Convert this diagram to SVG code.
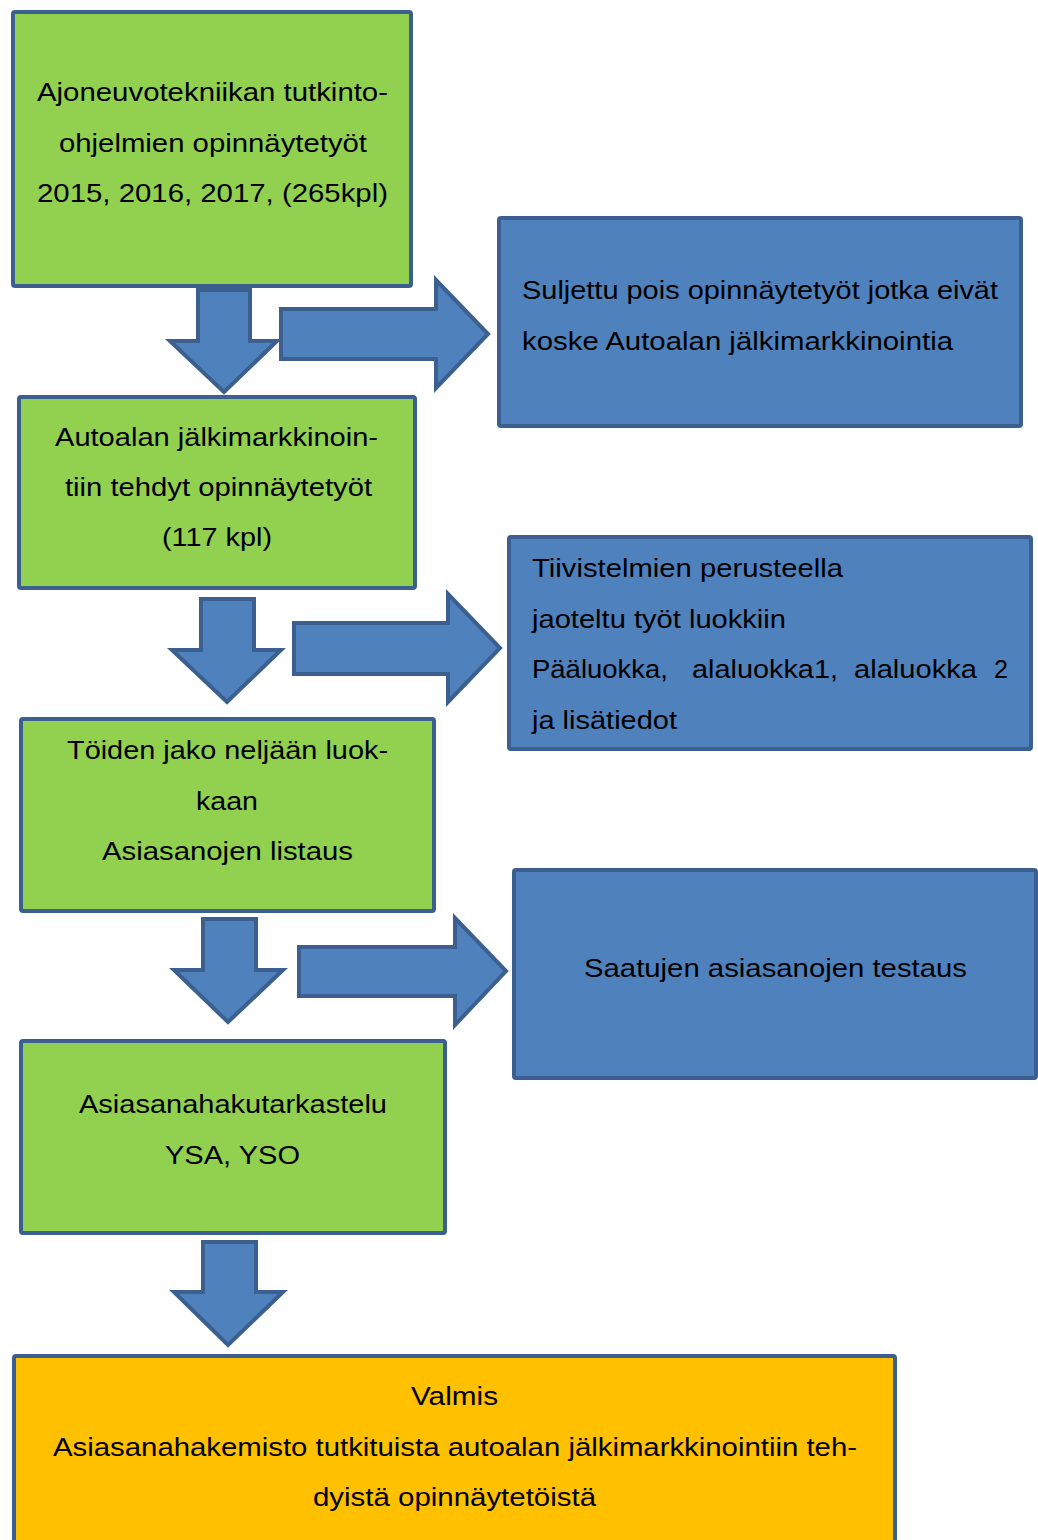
<svg xmlns="http://www.w3.org/2000/svg" width="1038" height="1540" viewBox="0 0 1038 1540">
<style>
.g{fill:#92D050;stroke:#3B5F8E;stroke-width:4}
.b{fill:#4F81BD;stroke:#3B5F8E;stroke-width:4}
.o{fill:#FFC000;stroke:#3B5F8E;stroke-width:4}
.a{fill:#4F81BD;stroke:#3B5F8E;stroke-width:4;stroke-linejoin:miter}
text{font-family:"Liberation Sans",Arial,sans-serif;font-size:26.5px;fill:#000}
</style>
<rect width="1038" height="1540" fill="#fff"/>
<g id="connectors">
<polygon class="a" points="198,290 250,290 250,341 277,341 224,392 170,341 198,341"/>
<polygon class="a" points="281,309 436,309 436,280 488,334 436,388 436,359 281,359"/>
<polygon class="a" points="201,599 254,599 254,650 281,650 227,702 172,650 201,650"/>
<polygon class="a" points="294,623 448,623 448,594 500,648 448,702 448,674 294,674"/>
<polygon class="a" points="203,919 256,919 256,970 283,970 228,1022 174,970 203,970"/>
<polygon class="a" points="299,947 455,947 455,918 506,971 455,1025 455,996 299,996"/>
<polygon class="a" points="203,1242 256,1242 256,1292 283,1292 228,1345 174,1292 203,1292"/>
</g>
<g id="n1">
<rect class="g" x="13" y="12" width="398" height="274" rx="2"/>
<text x="37" y="101" textLength="351" lengthAdjust="spacingAndGlyphs">Ajoneuvotekniikan tutkinto-</text>
<text x="59" y="152" textLength="308" lengthAdjust="spacingAndGlyphs">ohjelmien opinnäytetyöt</text>
<text x="37" y="202" textLength="351" lengthAdjust="spacingAndGlyphs">2015, 2016, 2017, (265kpl)</text>
</g>
<g id="n2">
<rect class="b" x="499" y="218" width="522" height="208" rx="2"/>
<text x="522" y="299" textLength="476" lengthAdjust="spacingAndGlyphs">Suljettu pois opinnäytetyöt jotka eivät</text>
<text x="522" y="350" textLength="431" lengthAdjust="spacingAndGlyphs">koske Autoalan jälkimarkkinointia</text>
</g>
<g id="n3">
<rect class="g" x="19" y="397" width="396" height="191" rx="2"/>
<text x="55" y="446" textLength="323" lengthAdjust="spacingAndGlyphs">Autoalan jälkimarkkinoin-</text>
<text x="65" y="496" textLength="307" lengthAdjust="spacingAndGlyphs">tiin tehdyt opinnäytetyöt</text>
<text x="162" y="546" textLength="110" lengthAdjust="spacingAndGlyphs">(117 kpl)</text>
</g>
<g id="n4">
<rect class="b" x="509" y="537" width="522" height="212" rx="2"/>
<text x="532" y="577" textLength="311" lengthAdjust="spacingAndGlyphs">Tiivistelmien perusteella</text>
<text x="532" y="628" textLength="254" lengthAdjust="spacingAndGlyphs">jaoteltu työt luokkiin</text>
<text y="678"><tspan x="532" textLength="136" lengthAdjust="spacingAndGlyphs">Pääluokka,</tspan> <tspan x="692" textLength="146" lengthAdjust="spacingAndGlyphs">alaluokka1,</tspan> <tspan x="854" textLength="123" lengthAdjust="spacingAndGlyphs">alaluokka</tspan> <tspan x="994" textLength="14" lengthAdjust="spacingAndGlyphs">2</tspan></text>
<text x="532" y="729" textLength="145" lengthAdjust="spacingAndGlyphs">ja lisätiedot</text>
</g>
<g id="n5">
<rect class="g" x="21" y="719" width="413" height="192" rx="2"/>
<text x="67" y="759" textLength="321" lengthAdjust="spacingAndGlyphs">Töiden jako neljään luok-</text>
<text x="196" y="810" textLength="62" lengthAdjust="spacingAndGlyphs">kaan</text>
<text x="102" y="860" textLength="251" lengthAdjust="spacingAndGlyphs">Asiasanojen listaus</text>
</g>
<g id="n6">
<rect class="b" x="514" y="870" width="522" height="208" rx="2"/>
<text x="584" y="977" textLength="383" lengthAdjust="spacingAndGlyphs">Saatujen asiasanojen testaus</text>
</g>
<g id="n7">
<rect class="g" x="21" y="1041" width="424" height="192" rx="2"/>
<text x="79" y="1113" textLength="308" lengthAdjust="spacingAndGlyphs">Asiasanahakutarkastelu</text>
<text x="165" y="1164" textLength="135" lengthAdjust="spacingAndGlyphs">YSA, YSO</text>
</g>
<g id="n8">
<rect class="o" x="14" y="1356" width="881" height="200" rx="2"/>
<text x="411" y="1405" textLength="87" lengthAdjust="spacingAndGlyphs">Valmis</text>
<text x="53" y="1456" textLength="804" lengthAdjust="spacingAndGlyphs">Asiasanahakemisto tutkituista autoalan jälkimarkkinointiin teh-</text>
<text x="313" y="1506" textLength="283" lengthAdjust="spacingAndGlyphs">dyistä opinnäytetöistä</text>
</g>
</svg>
